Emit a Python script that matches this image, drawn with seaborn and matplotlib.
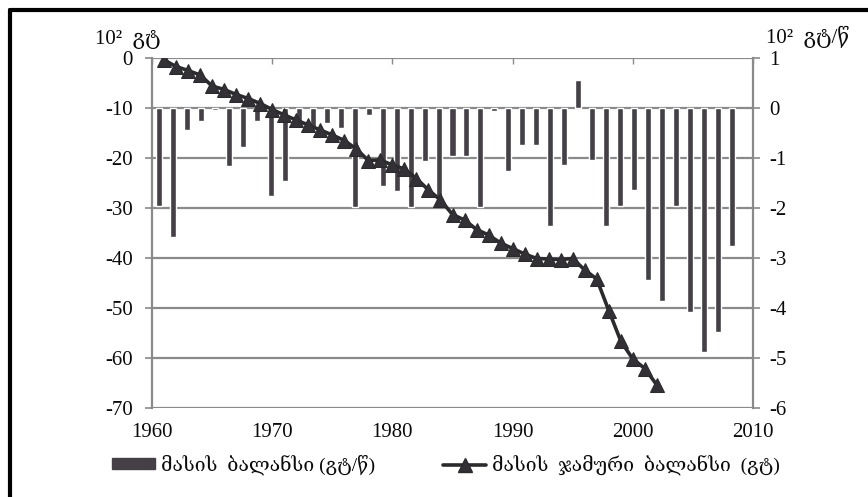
import numpy as np
import pandas as pd
import matplotlib
matplotlib.use("Agg")
import matplotlib.pyplot as plt
from matplotlib.patches import Patch
from matplotlib.lines import Line2D
from matplotlib.ticker import FixedLocator
import seaborn as sns

# ---- data ----
bar_years = [str(y) for y in range(1961, 2003)]
bar_slots = [str(y) for y in range(1961, 2004)]  # 43 category slots (last empty)
bar_values = [-1.95, -2.57, -0.44, -0.25, -0.03, -1.16, -0.77, -0.25, -1.76, -1.46,
              -0.30, -0.40, -0.30, -0.40, -1.97, -0.14, -1.55, -1.65, -1.97, -1.05,
              -1.94, -0.95, -0.95, -1.97, -0.05, -1.25, -0.74, -0.74, -2.36, -1.14,
              0.57, -1.04, -2.36, -1.95, -1.64, -3.44, -3.85, -1.95, -4.07, -4.87,
              -4.47, -2.76]

line_years = list(range(1961, 2003))
line_values = [-0.4, -1.7, -2.5, -3.4, -5.6, -6.3, -7.3, -8.1, -9.1, -10.3,
               -11.4, -12.4, -13.4, -14.4, -15.4, -16.5, -18.2, -20.5, -20.4, -21.4,
               -22.2, -24.1, -26.4, -28.4, -31.3, -32.4, -34.3, -35.4, -37.0, -38.1,
               -39.2, -40.1, -40.2, -40.3, -40.1, -42.4, -44.2, -50.5, -56.6, -60.2,
               -62.1, -65.4]

left_ticks = [0, -10, -20, -30, -40, -50, -60, -70]
right_ticks = [1, 0, -1, -2, -3, -4, -5, -6]
x_ticks = [1960, 1970, 1980, 1990, 2000, 2010]

left_unit = "10²  გტ"
right_unit = "10²  გტ/წ"
legend_bar = "მასის  ბალანსი (გტ/წ)"
legend_line = "მასის  ჯამური  ბალანსი  (გტ)"

# ---- style ----
sns.set_style("white")
plt.rcParams['font.family'] = ['Liberation Serif', 'DejaVu Serif', 'DejaVu Sans']

BAR_C = "#444046"
LINE_C = "#2b2a2d"
GRID_C = "#8a8a8a"
TXT_C = "#0a0a0a"

W, H = 868, 497
fig = plt.figure(figsize=(W / 100, H / 100), dpi=100)
fig.patch.set_facecolor("white")

pos = [152 / W, 1 - 408 / H, (753 - 152) / W, (408 - 58) / H]

# bar axes (right y-axis, categorical x)
ax_bar = fig.add_axes(pos, zorder=1)
df_bar = pd.DataFrame({"year": bar_years, "value": bar_values})
sns.barplot(data=df_bar, x="year", y="value", order=bar_slots, color=BAR_C,
            width=0.43, errorbar=None, saturation=1, ax=ax_bar, zorder=3)
ax_bar.set_xlim(-0.5, len(bar_slots) - 0.5)
ax_bar.set_ylim(-6, 1)
ax_bar.yaxis.tick_right()
ax_bar.yaxis.set_major_locator(FixedLocator(right_ticks))
ax_bar.set_yticklabels([str(t) for t in right_ticks])
ax_bar.set_xticks([])
ax_bar.set_xlabel("")
ax_bar.set_ylabel("")
ax_bar.grid(axis="y", color=GRID_C, linewidth=1.6, zorder=0)
ax_bar.set_axisbelow(True)
for s in ["top", "bottom", "left"]:
    ax_bar.spines[s].set_visible(False)
ax_bar.spines["right"].set_color(GRID_C)
ax_bar.spines["right"].set_linewidth(1.6)
ax_bar.tick_params(axis="y", which="major", right=True, left=False, direction="out",
                   length=5, width=1.2, color=GRID_C, labelsize=15, pad=7,
                   labelcolor=TXT_C)

# line axes (left y-axis, numeric years)
ax_line = fig.add_axes(pos, zorder=2)
ax_line.patch.set_alpha(0)
sns.lineplot(x=line_years, y=line_values, ax=ax_line, color=LINE_C, linewidth=2.6,
             marker="^", markersize=10, markeredgecolor=LINE_C, markerfacecolor="#333036")
ax_line.set_xlim(1960, 2010)
ax_line.set_ylim(-70, 0)
ax_line.yaxis.set_major_locator(FixedLocator(left_ticks))
ax_line.set_yticklabels([str(t) for t in left_ticks])
ax_line.xaxis.set_major_locator(FixedLocator(x_ticks))
ax_line.set_xticklabels([str(t) for t in x_ticks])
for s in ["top", "bottom", "right"]:
    ax_line.spines[s].set_visible(False)
ax_line.spines["left"].set_color(GRID_C)
ax_line.spines["left"].set_linewidth(1.6)
ax_line.tick_params(axis="y", left=True, direction="out", length=5, width=1.2,
                    color=GRID_C, labelsize=15, pad=9, labelcolor=TXT_C)
ax_line.tick_params(axis="x", bottom=False, top=True, direction="in", length=4,
                    width=1.0, color=GRID_C, labelbottom=True, labeltop=False,
                    labelsize=15, pad=11, labelcolor=TXT_C)
ax_line.set_xlabel("")
ax_line.set_ylabel("")

# unit labels
fig.text(95 / W, 1 - 44 / H, left_unit, fontsize=15, color=TXT_C, ha="left", va="baseline")
fig.text(766 / W, 1 - 43 / H, right_unit, fontsize=15, color=TXT_C, ha="left", va="baseline")

# legend
handles = [Patch(facecolor=BAR_C, edgecolor=BAR_C),
           Line2D([0], [0], color=LINE_C, linewidth=2.6, marker="^", markersize=10,
                  markerfacecolor="#333036", markeredgecolor=LINE_C)]
leg = fig.legend(handles, [legend_bar, legend_line], loc="center",
                 bbox_to_anchor=(446 / W, 1 - 465 / H), ncol=2, frameon=False,
                 fontsize=14, handlelength=2.2, handleheight=0.5, handletextpad=0.3,
                 columnspacing=3.5)
for t in leg.get_texts():
    t.set_color(TXT_C)

# outer frame (top and left edges of scanned box)
fig.add_artist(Line2D([10 / W, 1.0], [1 - 10 / H, 1 - 10 / H], transform=fig.transFigure,
                      color="black", linewidth=3))
fig.add_artist(Line2D([10 / W, 10 / W], [0.0, 1 - 10 / H], transform=fig.transFigure,
                      color="black", linewidth=3))

fig.savefig("out.png", dpi=100, facecolor="white")
